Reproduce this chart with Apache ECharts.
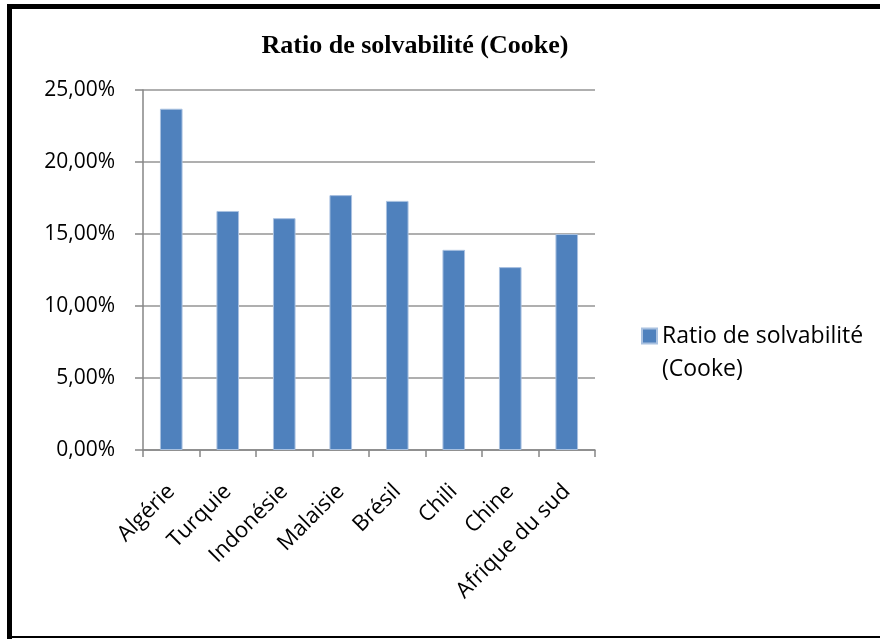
<!DOCTYPE html>
<html>
<head>
<meta charset="utf-8">
<script src="https://cdn.jsdelivr.net/npm/echarts@6/dist/echarts.min.js"></script>
<style>
  html, body { margin: 0; padding: 0; background: #ffffff; }
  #chart { width: 880px; height: 639px; }
</style>
</head>
<body>
<div id="chart"></div>
<script>
// Ratio de solvabilité (Cooke) par pays, en %
const categories = ['Algérie', 'Turquie', 'Indonésie', 'Malaisie', 'Brésil', 'Chili', 'Chine', 'Afrique du sud'];
const ratioCooke = [23.7, 16.6, 16.1, 17.7, 17.3, 13.9, 12.7, 15.0];
const seriesName = 'Ratio de solvabilité (Cooke)';
const yTicks = [0, 5, 10, 15, 20, 25];

const sansFont = '"Open Sans", "Liberation Sans", sans-serif';
const axisGray = '#868686';
const gridGray = '#959595';
const legendLineHeight = 33;

const chart = echarts.init(document.getElementById('chart'), null, { renderer: 'canvas' });

chart.setOption({
  backgroundColor: '#ffffff',
  animation: false,
  title: {
    text: seriesName,
    left: 410,
    textAlign: 'center',
    top: 28,
    textStyle: {
      fontFamily: '"Liberation Serif", "Times New Roman", serif',
      fontWeight: 'bold',
      fontSize: 26,
      color: '#000000'
    }
  },
  legend: {
    left: 636,
    // the legend text block is centred on the marker; a leading empty line
    // keeps the marker level with the first text line
    top: 331 - legendLineHeight * 1.5,
    orient: 'vertical',
    icon: 'rect',
    itemWidth: 15,
    itemHeight: 15,
    formatter: function () { return '\nRatio de solvabilité\n(Cooke)'; },
    textStyle: {
      fontFamily: sansFont,
      fontSize: 23,
      lineHeight: legendLineHeight,
      color: '#000000'
    }
  },
  grid: { left: 143, right: 285, top: 90, bottom: 189, containLabel: false },
  xAxis: {
    type: 'category',
    data: categories,
    boundaryGap: true,
    axisLine: { lineStyle: { color: axisGray, width: 1.5 } },
    axisTick: { show: true, length: 7, alignWithLabel: false, lineStyle: { color: axisGray, width: 1.5 } },
    axisLabel: {
      interval: 0,
      rotate: 45,
      margin: 38,
      fontFamily: sansFont,
      fontSize: 22,
      color: '#000000'
    }
  },
  yAxis: {
    type: 'value',
    min: yTicks[0],
    max: yTicks[yTicks.length - 1],
    interval: 5,
    axisLine: { show: true, lineStyle: { color: axisGray, width: 1.5 } },
    axisTick: { show: true, length: 8, lineStyle: { color: axisGray, width: 1.5 } },
    splitLine: { show: true, lineStyle: { color: gridGray, width: 1.5 } },
    axisLabel: {
      margin: 28,
      fontFamily: sansFont,
      fontSize: 21,
      color: '#000000',
      formatter: function (v) { return v.toFixed(2).replace('.', ',') + '%'; }
    }
  },
  series: [{
    name: seriesName,
    type: 'bar',
    data: ratioCooke,
    barCategoryGap: '60%',
    itemStyle: { color: '#4F81BD', borderColor: '#a9c1e0', borderWidth: 1 }
  }],
  graphic: [
    { type: 'rect', shape: { x: 7, y: 4, width: 880, height: 5 }, style: { fill: '#000000' }, silent: true },
    { type: 'rect', shape: { x: 7, y: 4, width: 5, height: 640 }, style: { fill: '#000000' }, silent: true },
    { type: 'rect', shape: { x: 7, y: 636, width: 880, height: 2 }, style: { fill: '#000000' }, silent: true }
  ]
});
</script>
</body>
</html>
